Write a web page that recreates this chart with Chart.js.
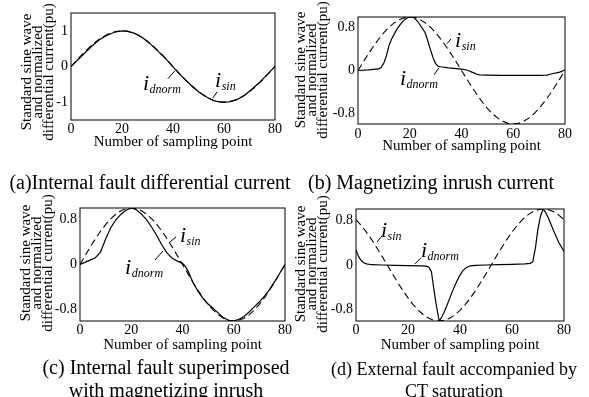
<!DOCTYPE html>
<html>
<head>
<meta charset="utf-8">
<script src="https://cdn.jsdelivr.net/npm/chart.js@4.4.1/dist/chart.umd.min.js"></script>
<style>
  html, body { margin: 0; padding: 0; background: #fff; }
  #page { position: relative; width: 589px; height: 397px; overflow: hidden;
          font-family: 'Liberation Serif', 'Times New Roman', serif; color: #000; }
  canvas { position: absolute; }
  .ytitle { position: absolute; transform: translate(-50%, -50%) rotate(-90deg);
            text-align: center; white-space: nowrap; font-size: 15px; line-height: 11px; }
  .cap { position: absolute; transform: translate(-50%, -50%); text-align: center;
         white-space: nowrap; font-size: 20px; line-height: 23px; }
</style>
</head>
<body>
<div id="page">
  <canvas id="ca" width="295" height="165" style="left:0;top:0"></canvas>
  <canvas id="cb" width="294" height="165" style="left:295px;top:0"></canvas>
  <canvas id="cc" width="295" height="165" style="left:0;top:195px"></canvas>
  <canvas id="cd" width="294" height="165" style="left:295px;top:195px"></canvas>

  <div class="ytitle" style="left:37px;top:72px">Standard sine wave<br>and normalized<br>differential current(pu)</div>
  <div class="ytitle" style="left:311px;top:70px">Standard sine wave<br>and normalized<br>differential current(pu)</div>
  <div class="ytitle" style="left:36px;top:263px">Standard sine wave<br>and normalized<br>differential current(pu)</div>
  <div class="ytitle" style="left:311px;top:264px">Standard sine wave<br>and normalized<br>differential current(pu)</div>

  <div class="cap" style="left:150px;top:182px">(a)Internal fault differential current</div>
  <div class="cap" style="left:431px;top:182px">(b) Magnetizing inrush current</div>
  <div class="cap" style="left:166px;top:379px">(c) Internal fault superimposed<br>with magnetizing inrush</div>
  <div class="cap" style="left:454px;top:380px;font-size:18px;line-height:22px">(d) External fault accompanied by<br>CT saturation</div>
</div>
<script>
const FONT = "'Liberation Serif', 'Times New Roman', serif";

// standard sine, read every 2nd sampling point
const sampleN = [0,2,4,6,8,10,12,14,16,18,20,22,24,26,28,30,32,34,36,38,40,42,44,46,48,50,52,54,56,58,60,62,64,66,68,70,72,74,76,78,80];
const isinStd = [0,0.156,0.309,0.454,0.588,0.707,0.809,0.891,0.951,0.988,1,0.988,0.951,0.891,0.809,0.707,0.588,0.454,0.309,0.156,0,-0.156,-0.309,-0.454,-0.588,-0.707,-0.809,-0.891,-0.951,-0.988,-1,-0.988,-0.951,-0.891,-0.809,-0.707,-0.588,-0.454,-0.309,-0.156,0];
const isinD = [0.809,0.707,0.588,0.454,0.309,0.156,0,-0.156,-0.309,-0.454,-0.588,-0.707,-0.809,-0.891,-0.951,-0.988,-1,-0.988,-0.951,-0.891,-0.809,-0.707,-0.588,-0.454,-0.309,-0.156,0,0.156,0.309,0.454,0.588,0.707,0.809,0.891,0.951,0.988,1,0.988,0.951,0.891,0.809];

// normalized differential current, one curve per case
const dnormA_n = [0,3,5,8,11,14,17,20,22,25,28,31,35,38,40,43,47,50,53,56,58,60,62,65,68,71,74,77,80];
const dnormA   = [0,0.21,0.35,0.56,0.74,0.87,0.96,1,0.99,0.93,0.81,0.64,0.37,0.15,-0.01,-0.24,-0.52,-0.71,-0.85,-0.96,-0.99,-1,-0.99,-0.93,-0.81,-0.63,-0.44,-0.22,0];

const dnormB_n = [0,4,8,9,10,11,12,13,14,15,16,17,18,19,20,21,22,23,24,25,26,27,28,29,30,31,32,35,38,40,42,43,44,45,46,47,50,55,60,65,70,73,75,78,80];
const dnormB   = [0,0.01,0.03,0.06,0.14,0.28,0.47,0.59,0.68,0.77,0.84,0.9,0.95,0.98,1,1,0.97,0.92,0.85,0.78,0.7,0.55,0.39,0.24,0.13,0.08,0.07,0.05,0.035,0.025,0.01,-0.01,-0.03,-0.05,-0.07,-0.08,-0.085,-0.09,-0.09,-0.09,-0.09,-0.085,-0.06,-0.03,0.01];

const dnormC_n = [0,3,6,8,10,12,14,16,18,20,22,24,26,28,30,32,34,36,38,40,41,42,44,46,48,50,52,54,56,58,60,62,64,66,68,70,72,74,76,78,80];
const dnormC   = [0,0.06,0.12,0.22,0.45,0.65,0.79,0.89,0.96,1,0.97,0.89,0.79,0.66,0.51,0.34,0.2,0.11,0.06,0.02,-0.03,-0.1,-0.31,-0.47,-0.6,-0.7,-0.78,-0.86,-0.94,-0.99,-1,-0.97,-0.92,-0.84,-0.75,-0.66,-0.56,-0.44,-0.3,-0.15,0];

const dnormD_n = [0,1,2,3,4,6,10,15,20,25,27,28,29,30,31,32,33,34,35,36,37,38,39,40,41,42,43,44,46,50,55,60,65,67,68,69,70,71,72,73,74,76,78,80];
const dnormD   = [0.27,0.15,0.08,0.04,0.02,0.005,0,-0.005,-0.01,-0.015,-0.02,-0.04,-0.12,-0.45,-0.75,-1,-0.93,-0.83,-0.72,-0.6,-0.48,-0.37,-0.27,-0.18,-0.11,-0.06,-0.03,-0.015,-0.005,0,0.005,0.01,0.02,0.03,0.06,0.3,0.65,0.88,1,0.93,0.84,0.61,0.4,0.24];

const xTicks = [0, 20, 40, 60, 80];
const yTicksA = [-1, 0, 1];
const yTicksBCD = [-0.8, 0, 0.8];

const pts = (xs, ys) => xs.map((x, i) => ({ x: x, y: ys[i] }));

// i_dnorm / i_sin labels with leader lines, plus the closed plot frame
const notes = {
  id: 'notes',
  afterDatasetsDraw(chart, args, opts) {
    const { ctx, scales: { x, y } } = chart;
    ctx.save();
    ctx.strokeStyle = '#000';
    ctx.fillStyle = '#000';
    ctx.lineWidth = 1;
    for (const l of opts.leaders) {
      ctx.beginPath();
      ctx.moveTo(x.getPixelForValue(l[0]), y.getPixelForValue(l[1]));
      ctx.lineTo(x.getPixelForValue(l[2]), y.getPixelForValue(l[3]));
      ctx.stroke();
    }
    ctx.textBaseline = 'alphabetic';
    ctx.textAlign = 'left';
    for (const t of opts.labels) {
      const px = x.getPixelForValue(t.x), py = y.getPixelForValue(t.y);
      ctx.font = 'italic 22px ' + FONT;
      ctx.fillText('i', px, py);
      const w = ctx.measureText('i').width;
      ctx.font = 'italic 12px ' + FONT;
      ctx.fillText(t.sub, px + w + 0.5, py + 3);
    }
    const a = chart.chartArea;
    ctx.strokeRect(a.left, a.top, a.right - a.left, a.bottom - a.top);
    ctx.restore();
  }
};

function makePanel(id, p) {
  new Chart(document.getElementById(id), {
    type: 'line',
    data: {
      datasets: [
        { data: pts(sampleN, p.sin), borderColor: '#000', borderWidth: 1.1, borderDash: [7, 4] },
        { data: pts(p.dn_n, p.dn), borderColor: '#000', borderWidth: 1.2 }
      ]
    },
    options: {
      responsive: false,
      animation: false,
      layout: { padding: p.pad },
      elements: { point: { radius: 0 }, line: { tension: 0 } },
      plugins: {
        legend: { display: false },
        tooltip: { enabled: false },
        notes: { labels: p.labels, leaders: p.leaders }
      },
      scales: {
        x: {
          type: 'linear', min: 0, max: 80,
          afterBuildTicks: s => { s.ticks = xTicks.map(v => ({ value: v })); },
          afterFit: s => { s.height = p.xh; s.paddingLeft = 0; s.paddingRight = 0; },
          grid: { display: false, drawTicks: false },
          border: { display: false },
          ticks: { color: '#000', padding: p.tickPad, font: { family: FONT, size: 14 } },
          title: { display: true, text: 'Number of sampling point', color: '#000',
                   padding: { top: 0, bottom: p.titlePad }, font: { family: FONT, size: 15 } }
        },
        y: {
          type: 'linear', min: p.ymin, max: p.ymax,
          afterBuildTicks: s => { s.ticks = p.yTicks.map(v => ({ value: v })); },
          afterFit: s => { s.width = p.yw; s.paddingTop = 0; s.paddingBottom = 0; },
          grid: { display: false, drawTicks: false },
          border: { display: false },
          ticks: { color: '#000', padding: 3, font: { family: FONT, size: 14 } }
        }
      }
    },
    plugins: [notes]
  });
}

makePanel('ca', {
  sin: isinStd, dn_n: dnormA_n, dn: dnormA, ymin: -1.5, ymax: 1.5, yTicks: yTicksA,
  yw: 71, xh: 45, pad: { top: 13, right: 20, left: 0, bottom: 0 }, tickPad: 1, titlePad: 14,
  labels: [{ x: 28.2, y: -0.65, sub: 'dnorm' }, { x: 56.5, y: -0.57, sub: 'sin' }],
  leaders: [[38.0, -0.34, 40.8, -0.12], [55.7, -0.88, 57.3, -0.71]]
});
makePanel('cb', {
  sin: isinStd, dn_n: dnormB_n, dn: dnormB, ymin: -1, ymax: 1, yTicks: yTicksBCD,
  yw: 63, xh: 41, pad: { top: 17, right: 24, left: 0, bottom: 0 }, tickPad: 2, titlePad: 10,
  labels: [{ x: 16.2, y: -0.27, sub: 'dnorm' }, { x: 37.5, y: 0.44, sub: 'sin' }],
  leaders: [[29.4, -0.08, 31.3, 0.05], [34.4, 0.5, 35.9, 0.59]]
});
makePanel('cc', {
  sin: isinStd, dn_n: dnormC_n, dn: dnormC, ymin: -1, ymax: 1, yTicks: yTicksBCD,
  yw: 80, xh: 39, pad: { top: 13, right: 10, left: 0, bottom: 0 }, tickPad: 1, titlePad: 6,
  labels: [{ x: 17.6, y: -0.17, sub: 'dnorm' }, { x: 39.0, y: 0.40, sub: 'sin' }],
  leaders: [[29.3, 0.08, 32.4, 0.24], [34.7, 0.38, 37.5, 0.49]]
});
makePanel('cd', {
  sin: isinD, dn_n: dnormD_n, dn: dnormD, ymin: -1, ymax: 1, yTicks: yTicksBCD,
  yw: 61, xh: 39, pad: { top: 14, right: 25, left: 0, bottom: 0 }, tickPad: 1, titlePad: 6,
  labels: [{ x: 25, y: 0.14, sub: 'dnorm' }, { x: 9.6, y: 0.5, sub: 'sin' }],
  leaders: [[22.7, 0.02, 25, 0.13], [8.1, 0.41, 10, 0.52]]
});
</script>
</body>
</html>
